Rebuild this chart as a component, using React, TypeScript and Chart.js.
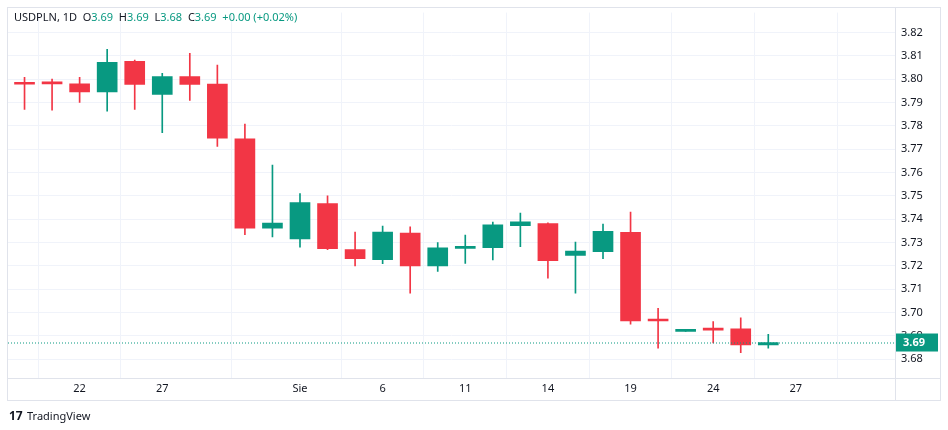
import React, { useEffect, useRef } from "react";
import { Chart, registerables } from "chart.js";
Chart.register(...registerables);

const opens = [3.798,3.7982,3.798,3.7945,3.8076,3.7935,3.8011,3.7979,3.7744,3.7362,3.7316,3.7467,3.727,3.7227,3.7341,3.72,3.7275,3.7278,3.7372,3.7381,3.7245,3.7261,3.7344,3.6968,3.692,3.6927,3.6931,3.6862];
const highs = [3.8008,3.800,3.8008,3.8128,3.8082,3.8025,3.8111,3.806,3.7807,3.7632,3.751,3.750,3.7345,3.7371,3.7367,3.730,3.7332,3.7388,3.7426,3.7385,3.7302,3.7379,3.7431,3.7018,3.6921,3.6962,3.6978,3.6907];
const lows = [3.787,3.7867,3.790,3.7863,3.787,3.7771,3.7909,3.7712,3.7334,3.7324,3.728,3.727,3.720,3.721,3.7083,3.7176,3.7211,3.7226,3.7282,3.7148,3.7083,3.7231,3.6951,3.6848,3.6919,3.687,3.6828,3.6848];
const closes = [3.7978,3.798,3.7945,3.8072,3.7977,3.8011,3.7977,3.7747,3.7362,3.7384,3.7471,3.7274,3.7231,3.7345,3.720,3.7278,3.728,3.7376,3.7389,3.7223,3.7264,3.7348,3.6964,3.6964,3.6921,3.6925,3.6862,3.6872];
const tickIdx = [2,5,10,13,16,19,22,25,28];
const tickLabels = ["22","27","Sie","6","11","14","19","24","27"];
const lastPrice = 3.6872;

const UP = "#089981", DOWN = "#F23645";

export default function App() {
  const ref = useRef<HTMLCanvasElement>(null);
  useEffect(() => {
    document.body.style.margin = "0";
    const idx = opens.map((_, i) => i);
    const col = idx.map(i => (closes[i] >= opens[i] ? UP : DOWN));
    const overlay = {
      id: "overlay",
      afterDatasetsDraw(c: any) {
        const ctx = c.ctx, a = c.chartArea, y = c.scales.y;
        ctx.save();
        const py = y.getPixelForValue(lastPrice);
        ctx.strokeStyle = UP; ctx.lineWidth = 1; ctx.setLineDash([1, 2]);
        ctx.beginPath(); ctx.moveTo(a.left, py + 0.5); ctx.lineTo(a.right, py + 0.5); ctx.stroke();
        ctx.setLineDash([]);
        ctx.fillStyle = UP; ctx.fillRect(a.right + 1, py - 9, 42, 18);
        ctx.fillStyle = "#fff"; ctx.font = "bold 11px 'Noto Sans'"; ctx.textBaseline = "middle";
        ctx.fillText("3.69", a.right + 8, py + 0.5);
        // frame
        ctx.strokeStyle = "#e0e3eb"; ctx.lineWidth = 1;
        ctx.strokeRect(7.5, 7.5, 933, 393);
        ctx.beginPath(); ctx.moveTo(a.right + 0.5, 8); ctx.lineTo(a.right + 0.5, 400);
        ctx.moveTo(8, a.bottom + 0.5); ctx.lineTo(940, a.bottom + 0.5); ctx.stroke();
        // header
        ctx.textBaseline = "middle"; ctx.font = "11px 'Noto Sans'";
        let x = 14; const hy = 18;
        const parts: [string, string][] = [["USDPLN, 1D  ", "#131722"],["O", "#131722"],["3.69  ", UP],["H", "#131722"],["3.69  ", UP],["L", "#131722"],["3.68  ", UP],["C", "#131722"],["3.69  ", UP],["+0.00 (+0.02%)", UP]];
        for (const [t, cl] of parts) { ctx.fillStyle = cl; ctx.fillText(t, x, hy); x += ctx.measureText(t).width; }
        // footer
        ctx.fillStyle = "#131722"; ctx.font = "bold 12px 'Noto Sans'";
        ctx.fillText("17", 9, 417);
        ctx.font = "11px 'Noto Sans'"; ctx.fillText("TradingView", 27, 417);
        ctx.restore();
      },
    };
    const chart = new Chart(ref.current!, {
      type: "bar",
      data: {
        datasets: [
          { data: idx.map(i => ({ x: i, y: [lows[i], highs[i]] })) as any, backgroundColor: col, barThickness: 1, grouped: false, order: 2 } as any,
          { data: idx.map(i => ({ x: i, y: [opens[i], closes[i]] })) as any, backgroundColor: col, barThickness: 20, minBarLength: 2, grouped: false, order: 1 } as any,
        ],
      },
      options: {
        animation: false, responsive: false, maintainAspectRatio: false,
        layout: { padding: { left: 8, top: 8, right: 8, bottom: 30 } },
        plugins: { legend: { display: false }, tooltip: { enabled: false } },
        scales: {
          x: {
            type: "linear", min: -0.6, max: 31.6, offset: false,
            afterBuildTicks: (s: any) => { s.ticks = tickIdx.map(v => ({ value: v })); },
            afterFit: (s: any) => { s.height = 22; },
            ticks: { callback: (v: any) => tickLabels[tickIdx.indexOf(v)] ?? "", color: "#131722", font: { size: 11, family: "Noto Sans" }, maxRotation: 0, autoSkip: false, padding: 4 },
            grid: { color: "#f0f3fa", drawTicks: false }, border: { display: false },
          },
          y: {
            position: "right", min: 3.672, max: 3.8285,
            afterBuildTicks: (s: any) => { const t = []; for (let k = 368; k <= 382; k++) t.push({ value: k / 100 }); s.ticks = t; },
            afterFit: (s: any) => { s.width = 45; },
            ticks: { callback: (v: any) => Number(v).toFixed(2), color: "#131722", font: { size: 11, family: "Noto Sans" }, padding: 6 },
            grid: { color: "#f0f3fa", drawTicks: false }, border: { display: false },
          },
        },
      },
      plugins: [overlay],
    });
    return () => chart.destroy();
  }, []);
  return <canvas ref={ref} width={948} height={430} style={{ display: "block" }} />;
}
